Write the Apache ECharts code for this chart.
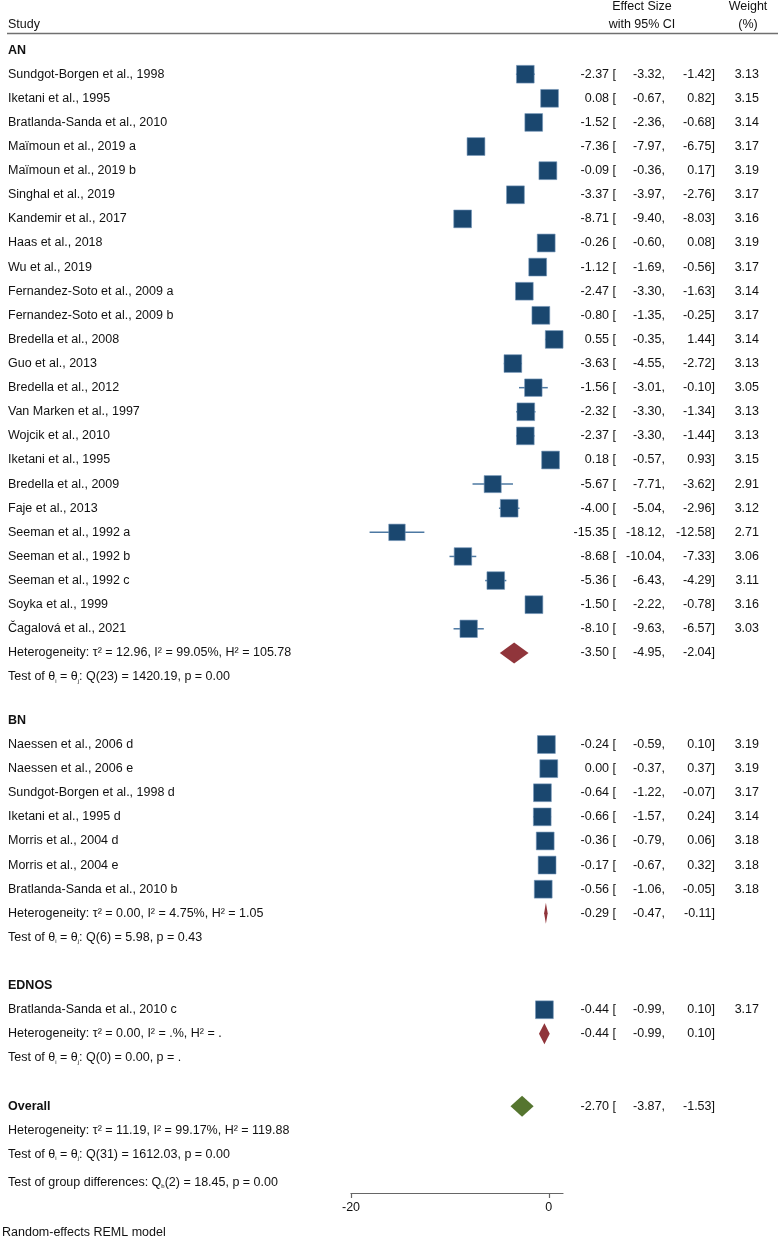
<!DOCTYPE html>
<html>
<head>
<meta charset="utf-8">
<script src="https://cdn.jsdelivr.net/npm/echarts@6/dist/echarts.min.js"></script>
<style>
html, body { margin: 0; padding: 0; background: #fff; }
#main { width: 778px; height: 1239px; }
</style>
</head>
<body>
<div id="main"></div>
<script>
// --- data ---
const anStudies = ['Sundgot-Borgen et al., 1998', 'Iketani et al., 1995', 'Bratlanda-Sanda et al., 2010',
  'Maïmoun et al., 2019 a', 'Maïmoun et al., 2019 b', 'Singhal et al., 2019', 'Kandemir et al., 2017',
  'Haas et al., 2018', 'Wu et al., 2019', 'Fernandez-Soto et al., 2009 a', 'Fernandez-Soto et al., 2009 b',
  'Bredella et al., 2008', 'Guo et al., 2013', 'Bredella et al., 2012', 'Van Marken et al., 1997',
  'Wojcik et al., 2010', 'Iketani et al., 1995', 'Bredella et al., 2009', 'Faje et al., 2013',
  'Seeman et al., 1992 a', 'Seeman et al., 1992 b', 'Seeman et al., 1992 c', 'Soyka et al., 1999',
  'Čagalová et al., 2021'];
const anEffect = [-2.37, 0.08, -1.52, -7.36, -0.09, -3.37, -8.71, -0.26, -1.12, -2.47, -0.80, 0.55, -3.63,
  -1.56, -2.32, -2.37, 0.18, -5.67, -4.00, -15.35, -8.68, -5.36, -1.50, -8.10];
const anLower = [-3.32, -0.67, -2.36, -7.97, -0.36, -3.97, -9.40, -0.60, -1.69, -3.30, -1.35, -0.35, -4.55,
  -3.01, -3.30, -3.30, -0.57, -7.71, -5.04, -18.12, -10.04, -6.43, -2.22, -9.63];
const anUpper = [-1.42, 0.82, -0.68, -6.75, 0.17, -2.76, -8.03, 0.08, -0.56, -1.63, -0.25, 1.44, -2.72,
  -0.10, -1.34, -1.44, 0.93, -3.62, -2.96, -12.58, -7.33, -4.29, -0.78, -6.57];
const anWeight = [3.13, 3.15, 3.14, 3.17, 3.19, 3.17, 3.16, 3.19, 3.17, 3.14, 3.17, 3.14, 3.13, 3.05, 3.13,
  3.13, 3.15, 2.91, 3.12, 2.71, 3.06, 3.11, 3.16, 3.03];

const bnStudies = ['Naessen et al., 2006 d', 'Naessen et al., 2006 e', 'Sundgot-Borgen et al., 1998 d',
  'Iketani et al., 1995 d', 'Morris et al., 2004 d', 'Morris et al., 2004 e', 'Bratlanda-Sanda et al., 2010 b'];
const bnEffect = [-0.24, 0.00, -0.64, -0.66, -0.36, -0.17, -0.56];
const bnLower = [-0.59, -0.37, -1.22, -1.57, -0.79, -0.67, -1.06];
const bnUpper = [0.10, 0.37, -0.07, 0.24, 0.06, 0.32, -0.05];
const bnWeight = [3.19, 3.19, 3.17, 3.14, 3.18, 3.18, 3.18];

const ednosStudies = ['Bratlanda-Sanda et al., 2010 c'];
const ednosEffect = [-0.44];
const ednosLower = [-0.99];
const ednosUpper = [0.10];
const ednosWeight = [3.17];

const groupNames = ['AN', 'BN', 'EDNOS'];
const groupEffect = [-3.50, -0.29, -0.44];
const groupLower = [-4.95, -0.47, -0.99];
const groupUpper = [-2.04, -0.11, 0.10];
const groupHet = ['τ² = 12.96, I² = 99.05%, H² = 105.78', 'τ² = 0.00, I² = 4.75%, H² = 1.05', 'τ² = 0.00, I² = .%, H² = .'];
const groupQ = ['Q(23) = 1420.19, p = 0.00', 'Q(6) = 5.98, p = 0.43', 'Q(0) = 0.00, p = .'];

const overallEffect = -2.70, overallLower = -3.87, overallUpper = -1.53;
const overallHet = 'τ² = 11.19, I² = 99.17%, H² = 119.88';
const overallQ = 'Q(31) = 1612.03, p = 0.00';
const groupDiff = ['b', '(2) = 18.45, p = 0.00'];

const xTicks = [-20, 0];

// --- layout / style ---
const FONT = '"Liberation Sans", Arial, Helvetica, sans-serif';
const FS = 12.5;
const TXT = '#111';
const NAVY = '#1a476f';
const CI_COLOR = '#4c78a2';
const MAROON = '#90353b';
const GREEN = '#55752f';
const blankAfter = [0.8, 1, 1];

const groups = [
  { s: anStudies, e: anEffect, l: anLower, u: anUpper, w: anWeight },
  { s: bnStudies, e: bnEffect, l: bnLower, u: bnUpper, w: bnWeight },
  { s: ednosStudies, e: ednosEffect, l: ednosLower, u: ednosUpper, w: ednosWeight }
];

const rows = [];
let r = 0;
const testRich = q => '{n|Test of θ}{s|i}{n| = θ}{s|j}{n|: ' + q + '}';
groups.forEach((g, gi) => {
  rows.push({ y: r++, label: groupNames[gi], bold: true });
  g.s.forEach((name, i) => {
    rows.push({ y: r++, label: name, kind: 'study', es: g.e[i], lo: g.l[i], hi: g.u[i], w: g.w[i] });
  });
  rows.push({ y: r++, label: 'Heterogeneity: ' + groupHet[gi], kind: 'diamond', color: MAROON,
    es: groupEffect[gi], lo: groupLower[gi], hi: groupUpper[gi] });
  rows.push({ y: r++, label: testRich(groupQ[gi]), rich: true });
  r += blankAfter[gi];
});
rows.push({ y: r++, label: 'Overall', bold: true, kind: 'diamond', color: GREEN,
  es: overallEffect, lo: overallLower, hi: overallUpper });
rows.push({ y: r++, label: 'Heterogeneity: ' + overallHet });
rows.push({ y: r++, label: testRich(overallQ), rich: true });
r += 0.15;
rows.push({ y: r, label: '{n|Test of group differences: Q}{s|' + groupDiff[0] + '}{n|' + groupDiff[1] + '}', rich: true });

const markRows = rows.filter(d => d.kind);
const fmt = v => v.toFixed(2);
const richStyles = {
  n: { fontSize: FS, fontFamily: FONT, fill: TXT },
  s: { fontSize: 6, fontFamily: FONT, fill: TXT, padding: [8, 0, 0, 0] }
};
const allUpper = anUpper.concat(bnUpper, ednosUpper);

function txt(x, y, text, align, bold) {
  return { type: 'text', x: x, y: y, style: { text: text, fill: TXT, fontSize: FS, fontFamily: FONT,
    fontWeight: bold ? 'bold' : 'normal', align: align, verticalAlign: 'middle' } };
}

function renderMark(params, api) {
  const d = markRows[params.dataIndex];
  const c = api.coord([d.es, d.y]);
  const a = api.coord([d.lo, d.y]);
  const b = api.coord([d.hi, d.y]);
  if (d.kind === 'study') {
    const side = 10 * Math.sqrt(d.w);
    return { type: 'group', children: [
      { type: 'line', shape: { x1: a[0], y1: a[1], x2: b[0], y2: b[1] }, style: { stroke: CI_COLOR, lineWidth: 1.5 } },
      { type: 'rect', shape: { x: c[0] - side / 2, y: c[1] - side / 2, width: side, height: side },
        style: { fill: NAVY, stroke: '#7395b8', lineWidth: 0.6 } }
    ] };
  }
  const hh = 10.5;
  return { type: 'polygon', shape: { points: [[a[0], c[1]], [c[0], c[1] - hh], [b[0], c[1]], [c[0], c[1] + hh]] },
    style: { fill: d.color } };
}

function renderText(params, api) {
  const d = rows[params.dataIndex];
  const y = api.coord([0, d.y])[1];
  const kids = [];
  if (d.rich) {
    kids.push({ type: 'text', x: 8, y: y, style: { text: d.label, rich: richStyles, fill: TXT, fontSize: FS,
      fontFamily: FONT, align: 'left', verticalAlign: 'middle' } });
  } else {
    kids.push(txt(8, y, d.label, 'left', d.bold));
  }
  if (d.kind) {
    kids.push(txt(616, y, fmt(d.es) + ' [', 'right'));
    kids.push(txt(665, y, fmt(d.lo) + ',', 'right'));
    kids.push(txt(715, y, fmt(d.hi) + ']', 'right'));
    if (d.w) kids.push(txt(759, y, fmt(d.w), 'right'));
  }
  return { type: 'group', children: kids };
}

const chart = echarts.init(document.getElementById('main'), null, { renderer: 'canvas' });
chart.setOption({
  animation: false,
  backgroundColor: '#fff',
  grid: { left: 351, right: 215, top: 26, height: 1167 },
  xAxis: {
    type: 'value', min: -20, max: Math.max(...allUpper), interval: 20,
    axisLine: { show: true, onZero: false, lineStyle: { color: '#666', width: 1.2 } },
    axisTick: { show: true, length: 5, customValues: xTicks, lineStyle: { color: '#666', width: 1.2 } },
    axisLabel: { customValues: xTicks, color: TXT, fontSize: FS, fontFamily: FONT, margin: 8 },
    splitLine: { show: false }
  },
  yAxis: { type: 'value', inverse: true, min: -1, max: 47.4, show: false },
  graphic: [
    { type: 'text', x: 8, y: 25, style: { text: 'Study', fill: TXT, fontSize: FS, fontFamily: FONT, align: 'left', verticalAlign: 'middle' } },
    { type: 'text', x: 642, y: 7, style: { text: 'Effect Size', fill: TXT, fontSize: FS, fontFamily: FONT, align: 'center', verticalAlign: 'middle' } },
    { type: 'text', x: 642, y: 25, style: { text: 'with 95% CI', fill: TXT, fontSize: FS, fontFamily: FONT, align: 'center', verticalAlign: 'middle' } },
    { type: 'text', x: 748, y: 7, style: { text: 'Weight', fill: TXT, fontSize: FS, fontFamily: FONT, align: 'center', verticalAlign: 'middle' } },
    { type: 'text', x: 748, y: 25, style: { text: '(%)', fill: TXT, fontSize: FS, fontFamily: FONT, align: 'center', verticalAlign: 'middle' } },
    { type: 'line', shape: { x1: 7, y1: 33.5, x2: 778, y2: 33.5 }, style: { stroke: '#707070', lineWidth: 1.5 } },
    { type: 'text', x: 2, y: 1233, style: { text: 'Random-effects REML model', fill: TXT, fontSize: FS, fontFamily: FONT, align: 'left', verticalAlign: 'middle' } }
  ],
  series: [
    {
      type: 'custom', name: 'marks', clip: false,
      data: markRows.map(d => [d.es, d.lo, d.hi, d.y]),
      encode: { x: [0, 1, 2], y: 3 },
      renderItem: renderMark
    },
    {
      type: 'custom', name: 'text', clip: false, silent: true,
      data: rows.map(d => [0, d.y]),
      encode: { x: 0, y: 1 },
      renderItem: renderText
    }
  ]
});
window.addEventListener('resize', function () {
  chart.resize();
});
</script>
</body>
</html>
